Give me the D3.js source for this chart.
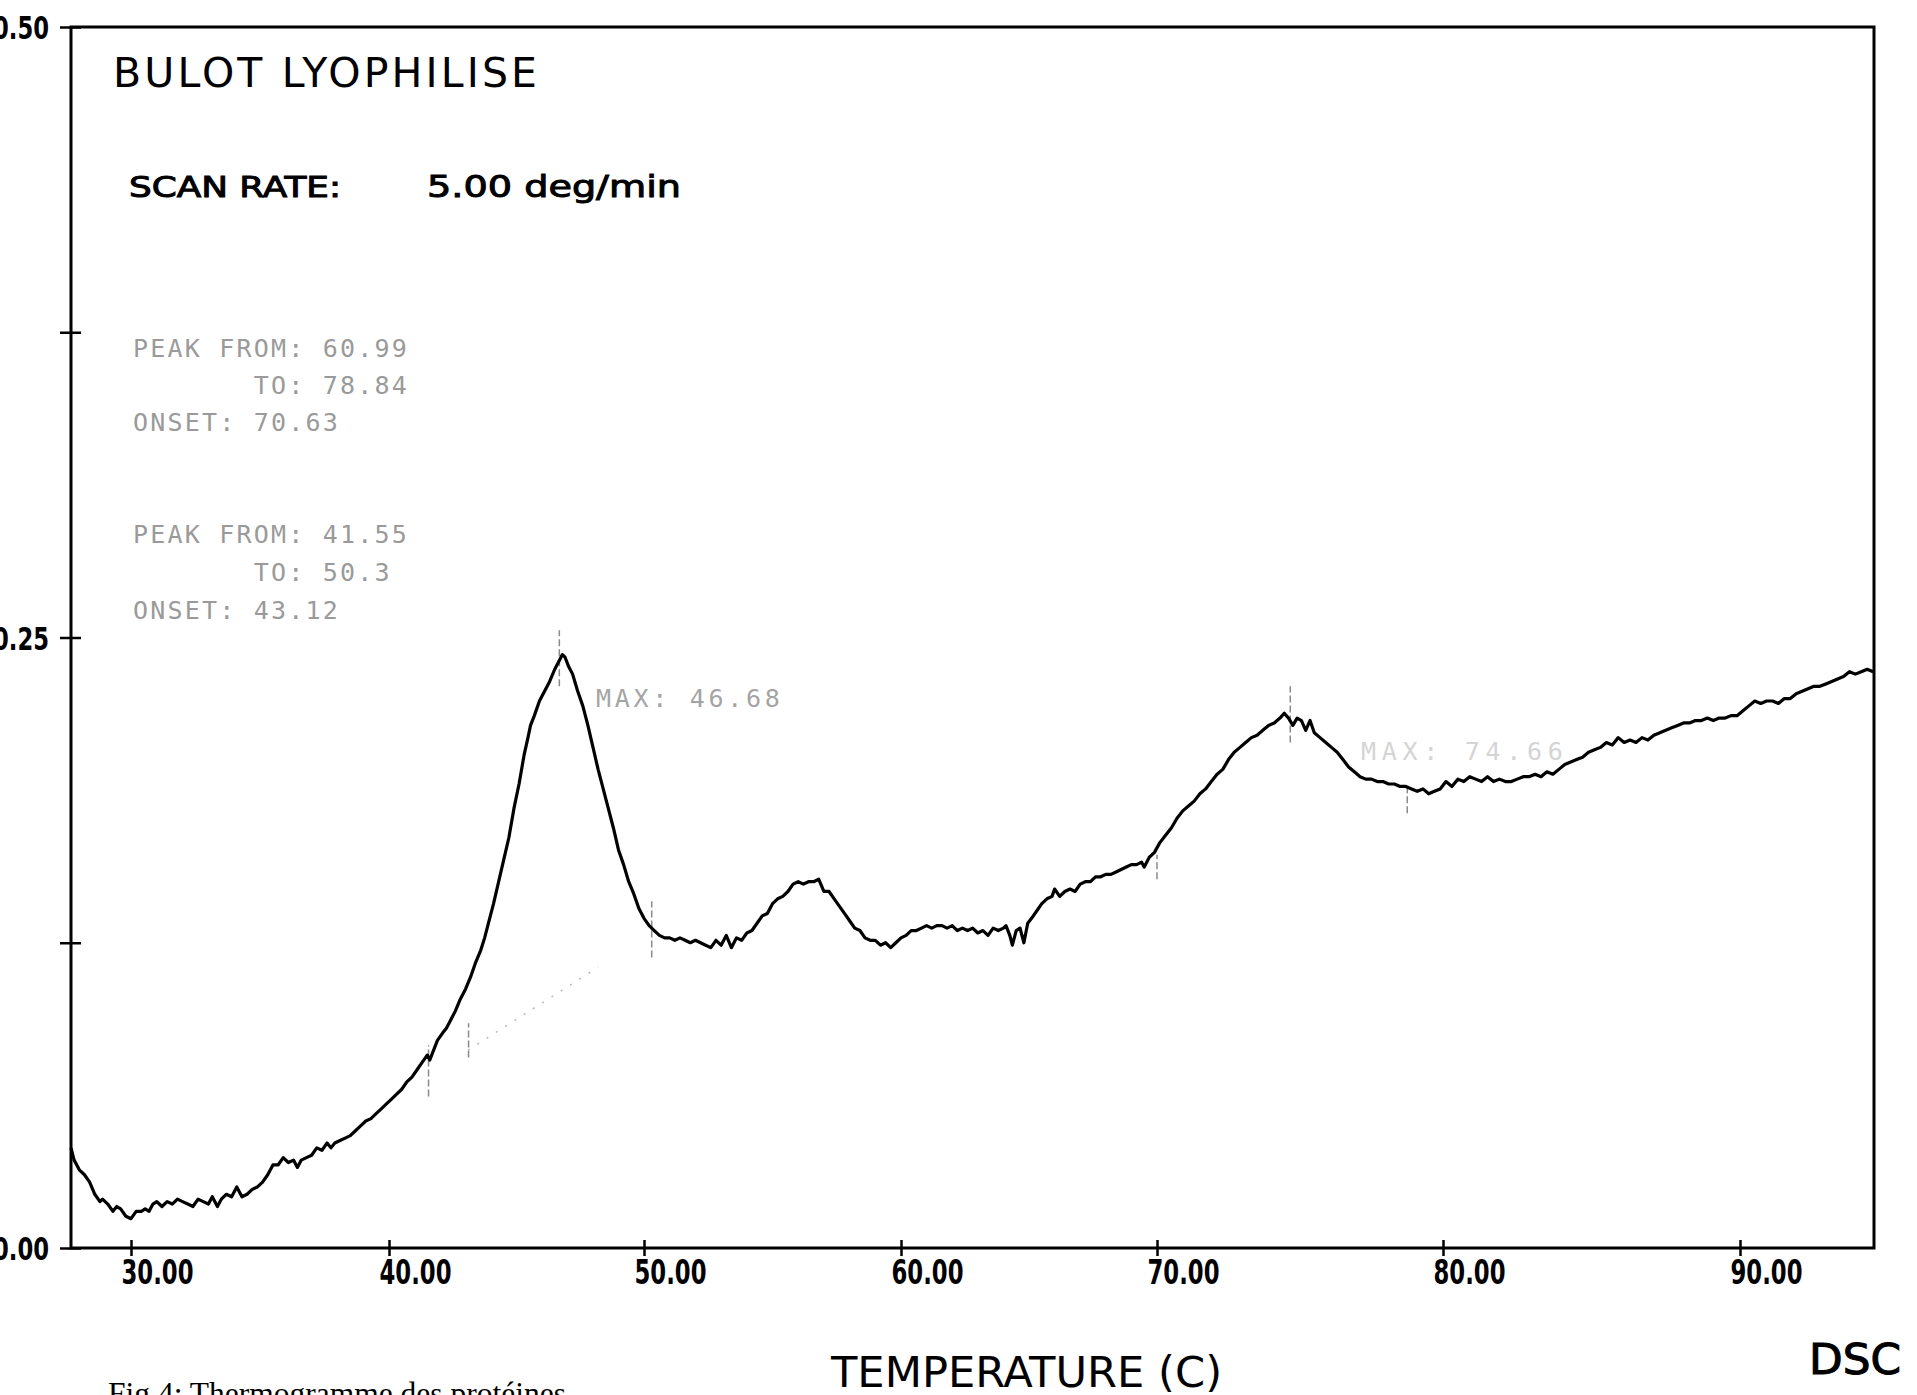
<!DOCTYPE html>
<html>
<head>
<meta charset="utf-8">
<script src="https://cdn.jsdelivr.net/npm/d3@7"></script>
<style>
  body { margin: 0; background: #fff; }
  svg { display: block; }
</style>
</head>
<body>
<div id="chart"></div>
<script>
// DSC trace (temperature in C, heat flow in plot units)
const temps = [
  27.68, 27.8, 28.0, 28.2, 28.4, 28.6, 28.8, 28.9, 29.1, 29.3, 29.45, 29.6, 29.8, 30.0,
  30.2, 30.4, 30.55, 30.7, 30.85, 31.0, 31.2, 31.4, 31.6, 31.8, 32.0, 32.2, 32.4, 32.6,
  32.8, 33.0, 33.15, 33.35, 33.5, 33.7, 33.9, 34.1, 34.3, 34.5, 34.7, 34.9, 35.1, 35.3,
  35.5, 35.7, 35.9, 36.1, 36.3, 36.45, 36.6, 36.8, 37.0, 37.2, 37.4, 37.6, 37.75, 37.9,
  38.1, 38.3, 38.5, 38.7, 38.9, 39.1, 39.3, 39.5, 39.7, 39.9, 40.1, 40.3, 40.5, 40.7,
  40.9, 41.1, 41.3, 41.5, 41.6, 41.75, 41.9, 42.1, 42.25, 42.4, 42.6, 42.8, 43.0, 43.2,
  43.4, 43.6, 43.75, 43.9, 44.1, 44.3, 44.5, 44.7, 44.9, 45.1, 45.3, 45.45, 45.55, 45.7,
  45.9, 46.1, 46.3, 46.5, 46.7, 46.8, 46.9, 47.05, 47.2, 47.4, 47.6, 47.8, 48.0, 48.2,
  48.4, 48.6, 48.8, 49.0, 49.2, 49.4, 49.6, 49.8, 50.0, 50.2, 50.4, 50.6, 50.8, 51.0,
  51.2, 51.4, 51.6, 51.8, 52.0, 52.2, 52.4, 52.6, 52.8, 53.0, 53.2, 53.4, 53.6, 53.8,
  54.0, 54.2, 54.4, 54.6, 54.8, 55.0, 55.2, 55.4, 55.6, 55.8, 56.0, 56.2, 56.4, 56.6,
  56.8, 57.0, 57.2, 57.4, 57.6, 57.8, 58.0, 58.2, 58.4, 58.6, 58.8, 59.0, 59.2, 59.4,
  59.6, 59.8, 60.0, 60.2, 60.4, 60.6, 60.8, 61.0, 61.2, 61.4, 61.6, 61.8, 62.0, 62.2,
  62.4, 62.6, 62.8, 63.0, 63.2, 63.4, 63.6, 63.8, 64.0, 64.1, 64.25, 64.35, 64.5, 64.65,
  64.8, 64.95, 65.1, 65.3, 65.5, 65.7, 65.9, 66.0, 66.2, 66.4, 66.6, 66.8, 67.0, 67.2,
  67.4, 67.6, 67.8, 68.0, 68.2, 68.4, 68.6, 68.8, 69.0, 69.2, 69.4, 69.5, 69.7, 69.9,
  70.1, 70.3, 70.5, 70.7, 70.9, 71.1, 71.3, 71.5, 71.7, 71.9, 72.1, 72.3, 72.5, 72.7,
  72.9, 73.1, 73.3, 73.5, 73.7, 73.9, 74.1, 74.3, 74.45, 74.6, 74.75, 74.9, 75.05, 75.2,
  75.35, 75.5, 75.7, 75.9, 76.1, 76.3, 76.5, 76.7, 76.9, 77.1, 77.3, 77.5, 77.7, 77.9,
  78.1, 78.3, 78.5, 78.7, 78.9, 79.1, 79.3, 79.5, 79.7, 79.9, 80.1, 80.3, 80.5, 80.7,
  80.9, 81.1, 81.3, 81.5, 81.7, 81.9, 82.1, 82.3, 82.5, 82.7, 82.9, 83.1, 83.3, 83.5,
  83.7, 83.9, 84.1, 84.3, 84.5, 84.7, 84.9, 85.1, 85.3, 85.5, 85.7, 85.9, 86.1, 86.3,
  86.5, 86.7, 86.9, 87.1, 87.3, 87.5, 87.7, 87.9, 88.1, 88.3, 88.5, 88.7, 88.9, 89.1,
  89.3, 89.5, 89.7, 89.9, 90.1, 90.3, 90.5, 90.7, 90.9, 91.1, 91.3, 91.5, 91.7, 91.9,
  92.1, 92.3, 92.5, 92.7, 92.9, 93.1, 93.3, 93.5, 93.7, 93.9, 94.1, 94.3, 94.5
];
const heatFlow = [
  0.041, 0.036, 0.032, 0.030, 0.027, 0.022, 0.019, 0.020, 0.018, 0.015, 0.017, 0.016, 0.013, 0.012,
  0.015, 0.015, 0.016, 0.015, 0.018, 0.019, 0.017, 0.019, 0.018, 0.020, 0.019, 0.018, 0.017, 0.020,
  0.019, 0.018, 0.021, 0.017, 0.020, 0.022, 0.021, 0.025, 0.021, 0.022, 0.024, 0.025, 0.027, 0.030,
  0.034, 0.034, 0.037, 0.035, 0.036, 0.033, 0.036, 0.037, 0.038, 0.041, 0.040, 0.043, 0.041, 0.043,
  0.044, 0.045, 0.046, 0.048, 0.050, 0.052, 0.053, 0.055, 0.057, 0.059, 0.061, 0.063, 0.065, 0.068,
  0.070, 0.073, 0.076, 0.079, 0.077, 0.081, 0.085, 0.088, 0.090, 0.093, 0.097, 0.102, 0.106, 0.111,
  0.117, 0.122, 0.127, 0.133, 0.141, 0.150, 0.159, 0.168, 0.180, 0.190, 0.202, 0.209, 0.214, 0.218,
  0.224, 0.228, 0.232, 0.237, 0.241, 0.243, 0.242, 0.238, 0.235, 0.228, 0.222, 0.214, 0.205, 0.196,
  0.188, 0.180, 0.172, 0.163, 0.157, 0.150, 0.145, 0.139, 0.135, 0.132, 0.130, 0.128, 0.127, 0.127,
  0.126, 0.127, 0.126, 0.125, 0.126, 0.125, 0.124, 0.123, 0.126, 0.124, 0.128, 0.123, 0.127, 0.126,
  0.129, 0.130, 0.133, 0.136, 0.137, 0.141, 0.143, 0.144, 0.146, 0.149, 0.150, 0.149, 0.150, 0.150,
  0.151, 0.146, 0.146, 0.143, 0.140, 0.137, 0.134, 0.131, 0.130, 0.127, 0.126, 0.126, 0.124, 0.125,
  0.123, 0.125, 0.127, 0.128, 0.130, 0.130, 0.131, 0.132, 0.131, 0.132, 0.132, 0.131, 0.132, 0.130,
  0.131, 0.130, 0.131, 0.129, 0.130, 0.128, 0.131, 0.130, 0.131, 0.132, 0.128, 0.124, 0.130, 0.131,
  0.125, 0.133, 0.135, 0.138, 0.141, 0.143, 0.144, 0.147, 0.144, 0.146, 0.147, 0.146, 0.149, 0.150,
  0.150, 0.152, 0.152, 0.153, 0.153, 0.154, 0.155, 0.156, 0.157, 0.157, 0.158, 0.156, 0.160, 0.162,
  0.166, 0.169, 0.172, 0.176, 0.179, 0.181, 0.183, 0.186, 0.188, 0.191, 0.194, 0.196, 0.200, 0.203,
  0.205, 0.207, 0.209, 0.210, 0.212, 0.214, 0.215, 0.217, 0.219, 0.217, 0.214, 0.217, 0.216, 0.212,
  0.216, 0.211, 0.209, 0.207, 0.205, 0.203, 0.200, 0.197, 0.195, 0.193, 0.192, 0.192, 0.191, 0.191,
  0.190, 0.190, 0.189, 0.189, 0.188, 0.187, 0.188, 0.186, 0.187, 0.188, 0.191, 0.189, 0.192, 0.191,
  0.193, 0.192, 0.191, 0.193, 0.191, 0.192, 0.191, 0.191, 0.192, 0.193, 0.193, 0.194, 0.193, 0.195,
  0.194, 0.196, 0.198, 0.199, 0.200, 0.201, 0.203, 0.204, 0.205, 0.207, 0.206, 0.209, 0.207, 0.208,
  0.207, 0.209, 0.208, 0.210, 0.211, 0.212, 0.213, 0.214, 0.215, 0.215, 0.216, 0.216, 0.217, 0.216,
  0.217, 0.217, 0.218, 0.218, 0.220, 0.222, 0.224, 0.223, 0.224, 0.224, 0.223, 0.225, 0.225, 0.227,
  0.228, 0.229, 0.230, 0.230, 0.231, 0.232, 0.233, 0.234, 0.236, 0.235, 0.236, 0.237, 0.236
];

// axes
const tempMin = 27.68, tempMax = 94.53;
const xTicks = [30, 40, 50, 60, 70, 80, 90];
const yTicks = [0, 0.125, 0.25, 0.375, 0.5];
const yTickLabels = ["0.00", "", "0.25", "", "0.50"];

// faint analysis marks left by the instrument
const markTemps = [41.55, 43.12, 46.68, 50.3, 70.0, 74.66, 78.75];
const markLow   = [0.062, 0.078, 0.230, 0.119, 0.151, 0.207, 0.178];
const markHigh  = [0.083, 0.092, 0.253, 0.142, 0.161, 0.230, 0.189];
const baseTemps = [43.1, 48.2];
const baseFlow  = [0.081, 0.115];

const peakReport = [
  "PEAK FROM: 60.99", "       TO: 78.84", "ONSET: 70.63",
  "PEAK FROM: 41.55", "       TO: 50.3", "ONSET: 43.12"
];
const maxLabels = ["MAX: 46.68", "MAX: 74.66"];

const W = 1917, H = 1395;
const svg = d3.select("#chart").append("svg")
    .attr("width", W)
    .attr("height", H);

svg.append("rect").attr("width", W).attr("height", H).attr("fill", "#fff");

// the printed axis is not evenly spaced above 70, so use a piecewise scale
const x = d3.scaleLinear()
    .domain([tempMin, 30, 40, 50, 60, 70, 80, 90, tempMax])
    .range([71, 131, 389, 644, 901, 1157, 1443, 1740, 1874]);
const y = d3.scaleLinear().domain([0, 0.5]).range([1248, 27]);

const condensed = "'DejaVu Sans Condensed', 'Liberation Sans Narrow', 'DejaVu Sans', sans-serif";
const mono = "'DejaVu Sans Mono', 'Liberation Mono', monospace";

// frame
svg.append("rect")
    .attr("x", x(tempMin)).attr("y", y(0.5))
    .attr("width", x(tempMax) - x(tempMin))
    .attr("height", y(0) - y(0.5))
    .attr("fill", "none")
    .attr("stroke", "#000")
    .attr("stroke-width", 3);

// left axis, ticks drawn as small crosses (labels are clipped by the page edge)
const yAxis = svg.append("g")
    .attr("transform", "translate(" + x(tempMin) + ",0)")
    .call(d3.axisLeft(y).tickValues(yTicks).tickSize(11)
      .tickFormat((d, i) => yTickLabels[i]));
yAxis.select(".domain").remove();
yAxis.selectAll(".tick line")
    .attr("x1", 10).attr("stroke", "#000").attr("stroke-width", 2.5);
yAxis.selectAll(".tick text")
    .attr("x", -22)
    .attr("dy", "0.36em")
    .attr("textLength", 56)
    .attr("lengthAdjust", "spacingAndGlyphs")
    .style("font-family", condensed)
    .style("font-weight", "bold")
    .style("font-size", "32px")
    .attr("fill", "#000");

// bottom axis
const xAxis = svg.append("g")
    .attr("transform", "translate(0," + y(0) + ")")
    .call(d3.axisBottom(x).tickValues(xTicks).tickSize(8)
      .tickFormat(d3.format(".2f")));
xAxis.select(".domain").remove();
xAxis.selectAll(".tick line")
    .attr("y1", -8).attr("stroke", "#000").attr("stroke-width", 2.5);
xAxis.selectAll(".tick text")
    .attr("text-anchor", "start")
    .attr("x", -10)
    .attr("y", 36)
    .attr("dy", 0)
    .attr("textLength", 72)
    .attr("lengthAdjust", "spacingAndGlyphs")
    .style("font-family", condensed)
    .style("font-weight", "bold")
    .style("font-size", "33px")
    .attr("fill", "#000");

// faint baseline and marks
svg.append("line")
    .attr("x1", x(baseTemps[0])).attr("y1", y(baseFlow[0]))
    .attr("x2", x(baseTemps[1])).attr("y2", y(baseFlow[1]))
    .attr("stroke", "#b8b8b8").attr("stroke-width", 1.5)
    .attr("stroke-dasharray", "2 9");

svg.selectAll(".mark")
  .data(markTemps)
  .enter().append("line")
    .attr("class", "mark")
    .attr("x1", d => x(d)).attr("x2", d => x(d))
    .attr("y1", (d, i) => y(markLow[i]))
    .attr("y2", (d, i) => y(markHigh[i]))
    .attr("stroke", "#8a8a8a")
    .attr("stroke-width", 1.5)
    .attr("stroke-dasharray", "7 3");

// the trace
const trace = temps.map((t, i) => ({t: t, v: heatFlow[i]}));
const line = d3.line()
    .x(d => x(d.t))
    .y(d => y(d.v));

svg.append("path")
    .datum(trace)
    .attr("d", line)
    .attr("fill", "none")
    .attr("stroke", "#000")
    .attr("stroke-width", 3.2)
    .attr("stroke-linejoin", "round");

// header text
svg.append("text")
    .attr("x", 113).attr("y", 87)
    .attr("textLength", 424).attr("lengthAdjust", "spacing")
    .style("font-family", "'DejaVu Sans', sans-serif")
    .style("font-size", "41px")
    .text("BULOT LYOPHILISE");

svg.append("text")
    .attr("x", 129).attr("y", 197)
    .attr("textLength", 212).attr("lengthAdjust", "spacingAndGlyphs")
    .style("font-family", "'DejaVu Sans', sans-serif")
    .style("font-size", "29px")
    .attr("stroke", "#000").attr("stroke-width", 1)
    .text("SCAN RATE:");

svg.append("text")
    .attr("x", 427).attr("y", 197)
    .attr("textLength", 254).attr("lengthAdjust", "spacingAndGlyphs")
    .style("font-family", "'DejaVu Sans', sans-serif")
    .style("font-size", "31px")
    .attr("stroke", "#000").attr("stroke-width", 1)
    .text("5.00 deg/min");

// peak report block (grey, faded print)
const reportY = [357, 394, 431, 543, 581, 619];
svg.append("g").selectAll("text")
  .data(peakReport)
  .enter().append("text")
    .attr("x", 133)
    .attr("y", (d, i) => reportY[i])
    .style("white-space", "pre")
    .style("font-family", mono)
    .style("font-size", "25px")
    .style("letter-spacing", "2.2px")
    .attr("fill", "#9a9a9a")
    .text(d => d);

svg.append("text")
    .attr("x", 596).attr("y", 707)
    .style("white-space", "pre")
    .style("font-family", mono)
    .style("font-size", "25px")
    .style("letter-spacing", "2.2px")
    .attr("textLength", 186).attr("lengthAdjust", "spacing")
    .attr("fill", "#a4a4a4")
    .text(maxLabels[0]);

svg.append("text")
    .attr("x", 1361).attr("y", 760)
    .style("white-space", "pre")
    .style("font-family", mono)
    .style("font-size", "25px")
    .style("letter-spacing", "2.2px")
    .attr("textLength", 204).attr("lengthAdjust", "spacing")
    .attr("fill", "#d4d4d4")
    .text(maxLabels[1]);

// footer
svg.append("text")
    .attr("x", 831).attr("y", 1387)
    .attr("textLength", 391).attr("lengthAdjust", "spacingAndGlyphs")
    .style("font-family", condensed)
    .style("font-size", "42px")
    .text("TEMPERATURE (C)");

svg.append("text")
    .attr("x", 1809).attr("y", 1374)
    .attr("textLength", 92).attr("lengthAdjust", "spacingAndGlyphs")
    .style("font-family", condensed)
    .style("font-size", "43px")
    .attr("stroke", "#000").attr("stroke-width", 1)
    .text("DSC");

svg.append("text")
    .attr("x", 108).attr("y", 1404)
    .attr("textLength", 458).attr("lengthAdjust", "spacingAndGlyphs")
    .style("font-family", "'Liberation Serif', 'DejaVu Serif', serif")
    .style("font-size", "31px")
    .text("Fig 4: Thermogramme des protéines");
</script>
</body>
</html>
